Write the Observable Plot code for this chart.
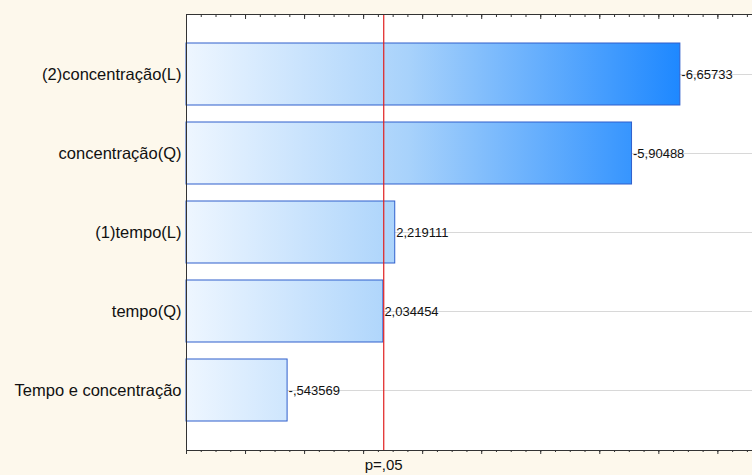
<!DOCTYPE html>
<html><head><meta charset="utf-8">
<script src="https://cdn.jsdelivr.net/npm/d3@7"></script>
<script src="https://cdn.jsdelivr.net/npm/@observablehq/plot@0.6"></script>
<style>
body{margin:0;background:#fdf8ec;}
#chart svg{display:block;background:#fdf8ec;font-family:"Liberation Sans",Arial,sans-serif;}
</style></head>
<body><div id="chart"></div>
<script>
const efeitos = ["(2)concentração(L)", "concentração(Q)", "(1)tempo(L)", "tempo(Q)", "Tempo e concentração"];
const valores = [-6.65733, -5.90488, 2.219111, 2.034454, -0.543569];
const rotulos = ["-6,65733", "-5,90488", "2,219111", "2,034454", "-,543569"];
const pCritico = 2.04;
const xMin = -1.03, xMax = 7.78;

const data = efeitos.map((e, i) => ({efeito: e, valor: Math.abs(valores[i]), rotulo: rotulos[i]}));
const major = d3.range(xMin, xMax, 0.919);
const minor = d3.range(xMin, xMax, 0.919 / 4);

const chart = Plot.plot({
  width: 752, height: 475,
  marginLeft: 186, marginRight: 0, marginTop: 14, marginBottom: 25,
  x: {domain: [xMin, xMax], label: null},
  y: {domain: efeitos, paddingInner: 0.215, paddingOuter: 0.353, label: null},
  style: {fontSize: "12px", color: "#000"},
  marks: [
    Plot.frame({fill: "white", stroke: null}),
    Plot.ruleY(efeitos, {y: d => d, x1: xMin, x2: xMax, stroke: "#d8d8d8", strokeWidth: 1}),
    Plot.barX(data, {x1: xMin, x2: "valor", y: "efeito", fill: "url(#grad)", stroke: "#2f5fcc", strokeWidth: 1}),
    Plot.text(data, {x: "valor", y: "efeito", text: "rotulo", textAnchor: "start", dx: 1, fill: "#111", fontSize: 13}),
    Plot.ruleX([pCritico], {stroke: "#e02020", strokeWidth: 1.2}),
    Plot.axisX({ticks: major, anchor: "bottom", tickSize: 4, tickFormat: () => "", stroke: "#333", label: null}),
    Plot.axisX({ticks: minor, anchor: "bottom", tickSize: 2, tickFormat: () => "", stroke: "#333", label: null}),
    Plot.axisX({ticks: major, anchor: "top", tickSize: -4, tickFormat: () => "", stroke: "#333", label: null}),
    Plot.axisX({ticks: minor, anchor: "top", tickSize: -2, tickFormat: () => "", stroke: "#333", label: null}),
    Plot.axisX({ticks: [pCritico], anchor: "bottom", tickSize: 0, tickPadding: 9, tickFormat: () => "p=,05", fill: "#111", fontSize: 15, label: null}),
    Plot.axisY({tickSize: 0, tickPadding: 5, label: null, fill: "#111", fontSize: 16.5}),
    Plot.ruleX([xMin], {stroke: "#333"}),
    Plot.frame({anchor: "top", stroke: "#333"}),
    Plot.frame({anchor: "bottom", stroke: "#333"})
  ]
});

// gradiente dos bares
const svg = d3.select(chart);
const defs = svg.insert("defs", ":first-child");
const g = defs.append("linearGradient").attr("id", "grad")
  .attr("gradientUnits", "userSpaceOnUse").attr("x1", 186).attr("x2", 680).attr("y1", 0).attr("y2", 0);
g.append("stop").attr("offset", 0).attr("stop-color", "#eef6ff");
g.append("stop").attr("offset", 0.45).attr("stop-color", "#a8d2fb");
g.append("stop").attr("offset", 1).attr("stop-color", "#1e88ff");

d3.select('#chart').append(() => chart);
</script></body></html>
